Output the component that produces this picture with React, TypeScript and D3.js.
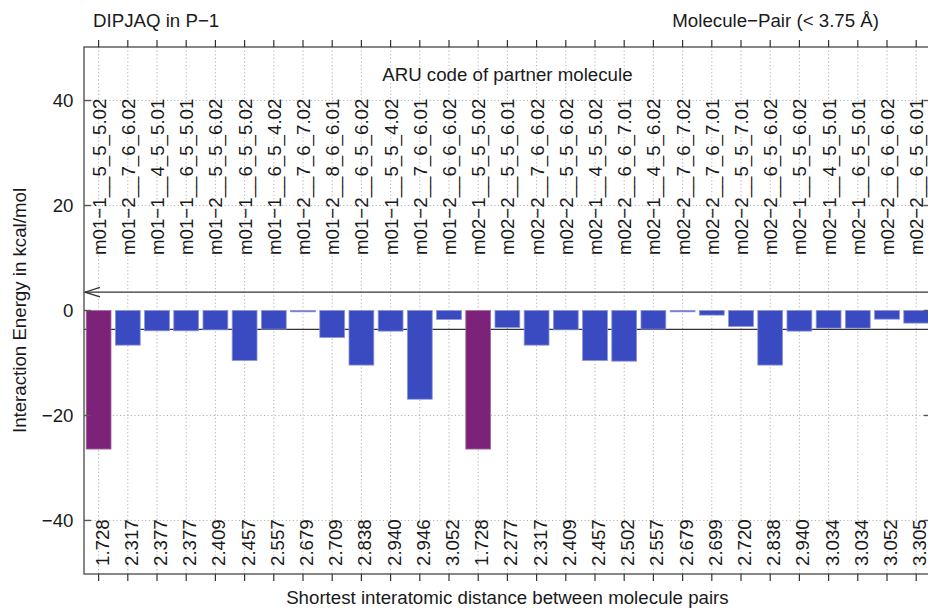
import React from "react";
import * as d3 from "d3";

const distances = ["1.728","2.317","2.377","2.377","2.409","2.457","2.557","2.679","2.709","2.838","2.940","2.946","3.052",
  "1.728","2.277","2.317","2.409","2.457","2.502","2.557","2.679","2.699","2.720","2.838","2.940","3.034","3.034","3.052","3.305"];

const aruCodes = ["m01−1__5_5_5.02","m01−2__7_6_6.02","m01−1__4_5_5.01","m01−1__6_5_5.01","m01−2__5_5_6.02","m01−1__6_5_5.02","m01−1__6_5_4.02","m01−2__7_6_7.02","m01−2__8_6_6.01","m01−2__6_5_6.02","m01−1__5_5_4.02","m01−2__7_6_6.01","m01−2__6_6_6.02",
  "m02−1__5_5_5.02","m02−2__5_5_6.01","m02−2__7_6_6.02","m02−2__5_5_6.02","m02−1__4_5_5.02","m02−2__6_6_7.01","m02−1__4_5_6.02","m02−2__7_6_7.02","m02−2__7_6_7.01","m02−2__5_5_7.01","m02−2__6_5_6.02","m02−1__5_5_6.02","m02−1__4_5_5.01","m02−1__6_5_5.01","m02−2__6_6_6.02","m02−2__6_5_6.01"];

const energies = [-26.4,-6.6,-3.87,-3.87,-3.68,-9.52,-3.55,-0.25,-5.14,-10.4,-3.93,-16.9,-1.71,
  -26.4,-3.23,-6.6,-3.68,-9.52,-9.65,-3.55,-0.25,-0.88,-3.04,-10.4,-3.93,-3.36,-3.36,-1.65,-2.4];

const barGroup = ["strong","weak","weak","weak","weak","weak","weak","weak","weak","weak","weak","weak","weak",
  "strong","weak","weak","weak","weak","weak","weak","weak","weak","weak","weak","weak","weak","weak","weak","weak"];

const yTicks = [40, 20, 0, -20, -40];
const refLineTop = 3.5;
const refLineBottom = -3.6;

const W = 928, H = 611;
const left = 84, right = 930.8, top = 47, bottom = 574;
const FONT = "'Liberation Sans', Arial, Helvetica, sans-serif";
const FS = 18.7;
const TXT = "#1a1a1a";

const fillColor: Record<string, string> = { strong: "#7d2279", weak: "#3a4ac0" };
const strokeColor: Record<string, string> = { strong: "#a66ba4", weak: "#8c94d8" };

export default function App() {
  const idx = energies.map((_, i) => String(i));
  const x = d3.scalePoint<string>().domain(idx).range([left, right]).padding(0.5);
  const step = x.step();
  const bw = step * 0.85;
  const y = d3.scaleLinear().domain([-50.2, 50.2]).range([bottom, top]);
  const fmt = (v: number) => (v < 0 ? "−" + Math.abs(v) : String(v));

  return (
    <div style={{ position: "absolute", left: 0, top: 0, width: W, height: H, overflow: "hidden" }}>
      <svg width={W} height={H} style={{ display: "block", fontFamily: FONT }}>
        <rect x={0} y={0} width={W} height={H} fill="#fff" />
        {/* vertical grid */}
        {idx.map((k) => (
          <line key={"vg" + k} x1={x(k)} x2={x(k)} y1={top} y2={bottom} stroke="#a8a8a8" strokeWidth={0.9} strokeDasharray="1.2,2.4" />
        ))}
        {/* horizontal grid */}
        {yTicks.filter((t) => t !== 0).map((t) => (
          <line key={"hg" + t} x1={left} x2={right} y1={y(t)} y2={y(t)} stroke="#a8a8a8" strokeWidth={0.9} strokeDasharray="1.2,2.4" />
        ))}
        {/* reference lines */}
        <line x1={left} x2={right} y1={y(refLineBottom)} y2={y(refLineBottom)} stroke="#333" strokeWidth={1.3} />
        <line x1={left + 1} x2={right} y1={y(refLineTop)} y2={y(refLineTop)} stroke="#333" strokeWidth={1.3} />
        <path d={`M${left + 16},${y(refLineTop) - 4.7} L${left + 1},${y(refLineTop)} L${left + 16},${y(refLineTop) + 4.7}`} fill="none" stroke="#333" strokeWidth={1.3} />
        {/* bars */}
        {energies.map((v, i) => {
          const y0 = y(0), y1 = y(v);
          return (
            <rect key={"b" + i} x={(x(String(i)) as number) - bw / 2} y={Math.min(y0, y1)} width={bw} height={Math.max(Math.abs(y1 - y0), 1)}
              fill={fillColor[barGroup[i]]} stroke={strokeColor[barGroup[i]]} strokeWidth={0.8} />
          );
        })}
        {/* frame */}
        <rect x={left} y={top} width={right - left} height={bottom - top} fill="none" stroke="#555" strokeWidth={1.4} />
        {/* y ticks inside */}
        {yTicks.map((t) => (
          <g key={"yt" + t}>
            <line x1={left} x2={left + 7} y1={y(t)} y2={y(t)} stroke="#555" strokeWidth={1.4} />
            <line x1={right - 7} x2={right} y1={y(t)} y2={y(t)} stroke="#555" strokeWidth={1.4} />
            <text x={73.5} y={y(t)} dy="0.36em" textAnchor="end" fontSize={FS} fill={TXT}>{fmt(t)}</text>
          </g>
        ))}
        {/* x ticks top & bottom */}
        {idx.map((k) => (
          <g key={"xt" + k}>
            <line x1={x(k)} x2={x(k)} y1={top - 7} y2={top} stroke="#333" strokeWidth={1.2} />
            <line x1={x(k)} x2={x(k)} y1={bottom} y2={bottom + 7} stroke="#333" strokeWidth={1.2} />
          </g>
        ))}
        {/* top labels: ARU codes */}
        {aruCodes.map((s, i) => {
          const cx = (x(String(i)) as number) + 7;
          const cy = 255;
          return (
            <text key={"aru" + i} transform={`translate(${cx},${cy}) rotate(-90)`} fontSize={FS} fill={TXT}>{s}</text>
          );
        })}
        {/* bottom labels: distances */}
        {distances.map((s, i) => {
          const cx = (x(String(i)) as number) + 10;
          const cy = 566;
          return (
            <text key={"d" + i} transform={`translate(${cx},${cy}) rotate(-90)`} fontSize={FS} fill={TXT}>{s}</text>
          );
        })}
        {/* titles */}
        <text x={93} y={27} fontSize={FS} fill={TXT}>DIPJAQ in P−1</text>
        <text x={879} y={27} textAnchor="end" fontSize={FS} fill={TXT}>Molecule−Pair (&lt; 3.75 Å)</text>
        <text x={(left + right) / 2} y={81} textAnchor="middle" fontSize={FS} fill={TXT}>ARU code of partner molecule</text>
        <text x={(left + right) / 2} y={604} textAnchor="middle" fontSize={FS} fill={TXT}>Shortest interatomic distance between molecule pairs</text>
        <text transform={`translate(26,${(top + bottom) / 2}) rotate(-90)`} textAnchor="middle" fontSize={FS} fill={TXT}>Interaction Energy in kcal/mol</text>
      </svg>
    </div>
  );
}
